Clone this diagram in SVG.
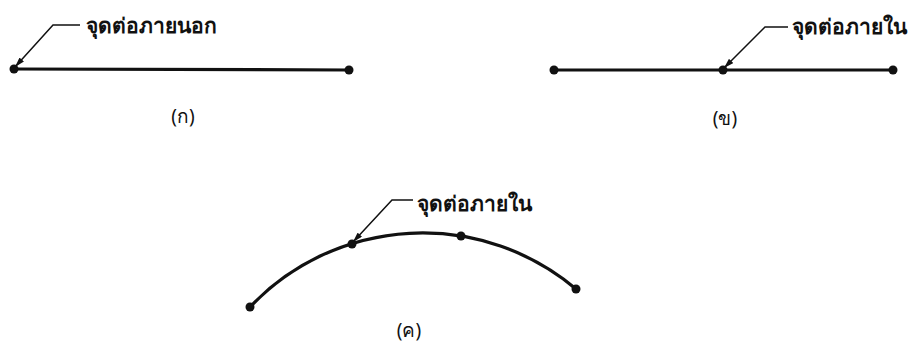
<svg xmlns="http://www.w3.org/2000/svg" width="915" height="343" viewBox="0 0 915 343">
<defs>
<style>
.wire{fill:none;stroke:#111;stroke-width:3.2;stroke-linecap:round}
.lead{fill:none;stroke:#111;stroke-width:1.5}
.dot{fill:#111}
.lbl{font-family:"Noto Sans","DejaVu Sans",sans-serif;font-size:21px;font-weight:bold;fill:#111}
.cap{font-family:"Noto Sans","DejaVu Sans",sans-serif;font-size:19px;fill:#111;text-anchor:middle}
</style>
<marker id="ah" viewBox="0 0 10 6" refX="10" refY="3" markerWidth="10" markerHeight="6" markerUnits="userSpaceOnUse" orient="auto">
<path d="M0,0 L10,3 L0,6 Z" fill="#111"/>
</marker>
</defs>
<g id="a">
<line class="wire" x1="14" y1="69" x2="349" y2="70"/>
<circle class="dot" cx="14" cy="69" r="4.5"/>
<circle class="dot" cx="349" cy="70" r="4.5"/>
<text class="lbl" x="86" y="33">จุดต่อภายนอก</text>
<text class="cap" x="183" y="123">(ก)</text>
</g>
<g id="b">
<line class="wire" x1="554" y1="70" x2="893" y2="70"/>
<circle class="dot" cx="554" cy="70" r="4.5"/>
<circle class="dot" cx="723" cy="70" r="4.5"/>
<circle class="dot" cx="893" cy="70" r="4.5"/>
<text class="lbl" x="792" y="34">จุดต่อภายใน</text>
<text class="cap" x="725" y="125">(ข)</text>
</g>
<g id="c">
<path class="wire" d="M250,307 A238,238 0 0 1 576,289"/>
<circle class="dot" cx="250" cy="307" r="4.5"/>
<circle class="dot" cx="352" cy="244" r="4.5"/>
<circle class="dot" cx="461" cy="236" r="4.5"/>
<circle class="dot" cx="576" cy="289" r="4.5"/>
<text class="lbl" x="417" y="211">จุดต่อภายใน</text>
<text class="cap" x="409" y="337">(ค)</text>
</g>
<g id="connectors">
<path class="lead" d="M80,25 L53,25 L15,67" marker-end="url(#ah)"/>
<path class="lead" d="M788,27 L765,27 L724,68" marker-end="url(#ah)"/>
<path class="lead" d="M413,200 L392,200 L353,242" marker-end="url(#ah)"/>
</g>
</svg>
